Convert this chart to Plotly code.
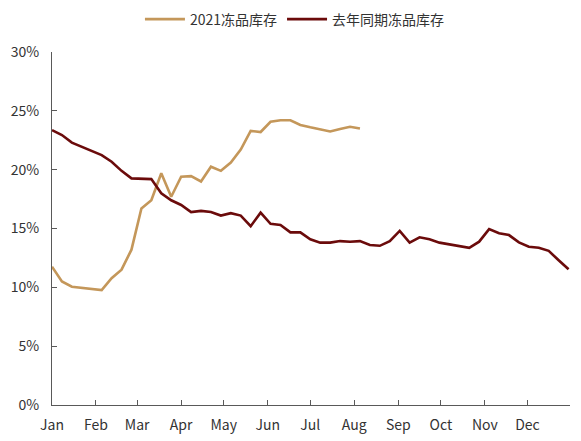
import pandas as pd
import plotly.graph_objects as go

# weekly observations (Chinese frozen-goods inventory ratio, %)
weeks = pd.date_range("2020-01-01", periods=53, freq="7D")

inv_2021 = [11.75, 10.5, 10.05, 9.95, 9.85, 9.77, 10.77, 11.5, 13.2, 16.7,
            17.4, 19.7, 17.7, 19.4, 19.45, 19.0, 20.25, 19.9, 20.6, 21.7,
            23.3, 23.2, 24.07, 24.2, 24.2, 23.8, 23.6, 23.4, 23.25, 23.45,
            23.65, 23.5]

inv_last_year = [23.36, 22.94, 22.3, 21.95, 21.6, 21.24, 20.67, 19.9, 19.26, 19.2,
                 19.2, 18.0, 17.4, 17.0, 16.4, 16.5, 16.4, 16.1, 16.3, 16.1,
                 15.2, 16.35, 15.4, 15.3, 14.67, 14.67, 14.08, 13.8, 13.8, 13.93,
                 13.88, 13.93, 13.6, 13.53, 13.93, 14.8, 13.8, 14.25, 14.08, 13.8,
                 13.65, 13.53, 13.36, 13.88, 14.95, 14.59, 14.44, 13.82, 13.45, 13.36,
                 13.1, 12.3, 11.53]

series_names = ["2021冻品库存", "去年同期冻品库存"]
y_ticks = [0, 5, 10, 15, 20, 25, 30]

FONT = "Noto Sans CJK SC"
AXIS_COLOR = "#595959"
TEXT_COLOR = "#333333"

fig = go.Figure()

fig.add_trace(go.Scatter(x=weeks[:len(inv_2021)], y=inv_2021,
                         mode="lines", name=series_names[0],
                         line=dict(color="#C4975A", width=2.6)))
fig.add_trace(go.Scatter(x=weeks, y=inv_last_year,
                         mode="lines", name=series_names[1],
                         line=dict(color="#6B0B0B", width=2.6)))

# page body adds an 8px offset, so the figure is sized to the remaining space
fig.update_layout(width=573, height=433,
                  margin=dict(l=44, r=11, t=44, b=36, autoexpand=False),
                  plot_bgcolor="white", paper_bgcolor="white",
                  font=dict(family=FONT, size=14, color=TEXT_COLOR),
                  legend=dict(orientation="h", x=0.469, xanchor="center",
                              y=1.092, yanchor="middle",
                              font=dict(size=14, color=TEXT_COLOR),
                              itemwidth=40),
                  xaxis=dict(type="date",
                             range=["2020-01-01", "2020-12-31"],
                             dtick="M1", tick0="2020-01-01", tickformat="%b",
                             ticks="inside", ticklen=5, tickcolor=AXIS_COLOR,
                             showline=True, linecolor=AXIS_COLOR, linewidth=1,
                             showgrid=False, zeroline=False, automargin=False,
                             ticklabelstandoff=7,
                             tickfont=dict(size=14, color=TEXT_COLOR)),
                  yaxis=dict(range=[0, 30], tickvals=y_ticks,
                             ticktext=[f"{v}%" for v in y_ticks],
                             ticks="inside", ticklen=5, tickcolor=AXIS_COLOR,
                             showline=True, linecolor=AXIS_COLOR, linewidth=1,
                             showgrid=False, zeroline=False, automargin=False,
                             ticklabelstandoff=9,
                             tickfont=dict(size=14, color=TEXT_COLOR)))

fig.write_html("out.html")
